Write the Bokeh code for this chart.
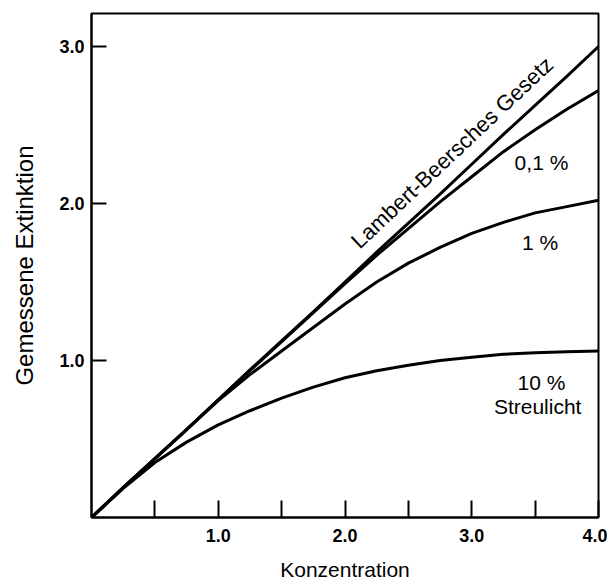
from bokeh.plotting import figure
from bokeh.models import FixedTicker, Range1d, Label, PrintfTickFormatter
from bokeh.embed import file_html
from bokeh.resources import INLINE

# Konzentration (x) and gemessene Extinktion (y), read at steps of 0.25
conc = [0, 0.25, 0.5, 0.75, 1.0, 1.25, 1.5, 1.75, 2.0, 2.25, 2.5, 2.75, 3.0, 3.25, 3.5, 3.75, 4.0]
lambert_beer = [0, 0.19, 0.375, 0.56, 0.75, 0.94, 1.125, 1.31, 1.5, 1.69, 1.875, 2.06, 2.25, 2.44, 2.625, 2.81, 3.0]
streu_01 = [0, 0.19, 0.375, 0.56, 0.75, 0.935, 1.12, 1.305, 1.49, 1.67, 1.84, 2.01, 2.17, 2.33, 2.47, 2.60, 2.72]
streu_1 = [0, 0.19, 0.375, 0.56, 0.745, 0.91, 1.06, 1.21, 1.36, 1.50, 1.62, 1.72, 1.81, 1.88, 1.94, 1.98, 2.02]
streu_10 = [0, 0.185, 0.35, 0.48, 0.59, 0.68, 0.76, 0.83, 0.89, 0.935, 0.97, 1.0, 1.02, 1.04, 1.05, 1.055, 1.06]

x_major = [1.0, 2.0, 3.0, 4.0]
x_minor = [0.5, 1.5, 2.5, 3.5]
y_major = [1.0, 2.0, 3.0]

FONT = "Liberation Sans"

p = figure(width=607, height=583, output_backend="svg", toolbar_location=None,
           x_range=Range1d(0, 4.0), y_range=Range1d(0, 3.21),
           min_border_left=91, min_border_right=9, min_border_top=13, min_border_bottom=63)
p.grid.visible = False
p.outline_line_color = "black"
p.outline_line_width = 2
p.background_fill_color = "white"
p.border_fill_color = "white"

for ys in [lambert_beer, streu_01, streu_1, streu_10]:
    p.line(conc, ys, line_color="black", line_width=3, line_join="round", line_cap="round")

xa = p.xaxis[0]
xa.ticker = FixedTicker(ticks=x_major, minor_ticks=x_minor)
xa.formatter = PrintfTickFormatter(format="%.1f")
xa.major_tick_in = 17
xa.major_tick_out = 0
xa.minor_tick_in = 17
xa.minor_tick_out = 0
xa.major_tick_line_width = 2
xa.minor_tick_line_width = 2
xa.axis_line_width = 2
xa.major_label_text_font = FONT
xa.major_label_text_font_style = "bold"
xa.major_label_text_font_size = "18px"
xa.major_label_text_color = "black"
xa.major_label_standoff = 11
xa.axis_label = "Konzentration"
xa.axis_label_text_font = FONT
xa.axis_label_text_font_style = "normal"
xa.axis_label_text_font_size = "21px"
xa.axis_label_text_color = "black"
xa.axis_label_standoff = 13

ya = p.yaxis[0]
ya.ticker = FixedTicker(ticks=y_major, minor_ticks=[])
ya.formatter = PrintfTickFormatter(format="%.1f")
ya.major_tick_in = 15
ya.major_tick_out = 0
ya.minor_tick_in = 0
ya.minor_tick_out = 0
ya.major_tick_line_width = 2
ya.axis_line_width = 2
ya.major_label_text_font = FONT
ya.major_label_text_font_style = "bold"
ya.major_label_text_font_size = "18px"
ya.major_label_text_color = "black"
ya.major_label_standoff = 7
ya.axis_label = "Gemessene Extinktion"
ya.axis_label_text_font = FONT
ya.axis_label_text_font_style = "normal"
ya.axis_label_text_font_size = "24px"
ya.axis_label_text_color = "black"
ya.axis_label_standoff = 18

p.add_layout(Label(x=2.076, y=1.74, text="Lambert-Beersches Gesetz", angle=0.755,
                   text_align="left", text_baseline="alphabetic",
                   text_font=FONT, text_font_size="22px", text_color="black"))
for tx, lx, ly in [("0,1 %", 3.55, 2.26), ("1 %", 3.54, 1.75),
                   ("10 %", 3.55, 0.86), ("Streulicht", 3.52, 0.71)]:
    p.add_layout(Label(x=lx, y=ly, text=tx, text_align="center", text_baseline="middle",
                       text_font=FONT, text_font_size="21px", text_color="black"))

open("out.html", "w").write(file_html(p, INLINE))
